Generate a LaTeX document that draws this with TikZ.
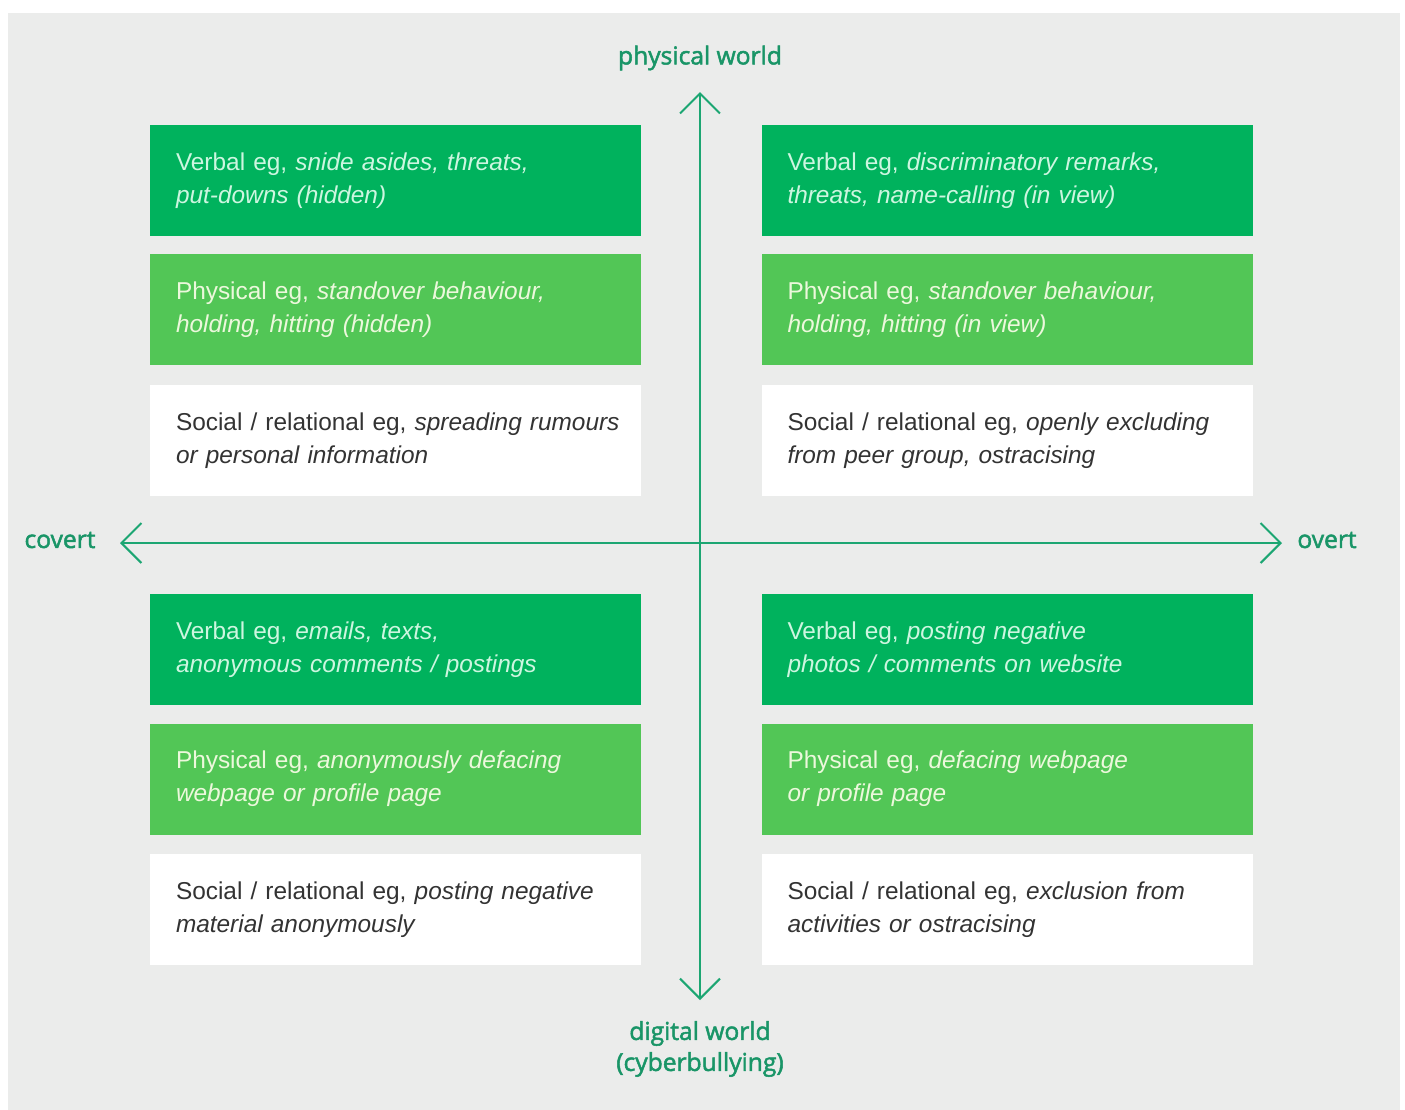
\documentclass[tikz,border=0pt]{standalone}
\usepackage{fontspec}
\setmainfont{Liberation Sans}
\newfontfamily\labelfont[FakeBold=2]{Open Sans}
\usepackage{tikz}
\usepackage{xcolor}
\usetikzlibrary{arrows.meta}
\definecolor{pagegray}{HTML}{EBECEB}
\definecolor{darkgreen}{HTML}{00B25D}
\definecolor{lightgreen}{HTML}{52C656}
\definecolor{axisgreen}{HTML}{1CA672}
\definecolor{mint}{HTML}{CDF6E0}
\definecolor{pale}{HTML}{ECF8DC}
\colorlet{bodytext}{black!80}
\newcommand{\eg}[1]{eg, \textit{#1}}
\tikzstyle{kindbox} =[
    rectangle,
    minimum width=245.5pt,
    minimum height=55.5pt,
    text width=219.5pt,
    inner xsep=13pt,
    align=left,
    font=\fontsize{12.2pt}{16.5pt}\selectfont
    ]
\tikzstyle{verbalbox} =[kindbox, fill=darkgreen, text=mint]
\tikzstyle{physbox} =[kindbox, fill=lightgreen, text=pale]
\tikzstyle{socialbox} =[kindbox, fill=white, text=bodytext]
\tikzstyle{axisline} =[
    draw=axisgreen,
    line width=1pt,
    {Straight Barb[length=10pt,width=20pt,line width=1pt]}-{Straight Barb[length=10pt,width=20pt,line width=1pt]}
    ]
\tikzstyle{axislabel} =[
    text=axisgreen!90!black,
    font=\labelfont\fontsize{12.3pt}{15.5pt}\selectfont,
    align=center,
    inner sep=0pt
    ]
\begin{document}
\begin{tikzpicture}[x=0.5pt,y=-0.5pt]
\fill[white] (0,0) rectangle (1405,1110);
\fill[pagegray] (8,13) rectangle (1400,1110);
\useasboundingbox (0,0) rectangle (1405,1110);

% physical world, covert
\node[verbalbox] (pcverbal) at (395.5,180.5) {Verbal \eg{snide asides, threats,\\ put-downs (hidden)}};
\node[physbox] (pcphys) at (395.5,309.5) {Physical \eg{standover behaviour,\\ holding, hitting (hidden)}};
\node[socialbox] (pcsocial) at (395.5,440.5) {\mbox{Social / relational \eg{spreading rumours}}\\ \textit{or personal information}};

% physical world, overt
\node[verbalbox] (poverbal) at (1007,180.5) {Verbal \eg{discriminatory remarks,\\ threats, name-calling (in view)}};
\node[physbox] (pophys) at (1007,309.5) {Physical \eg{standover behaviour,\\ holding, hitting (in view)}};
\node[socialbox] (posocial) at (1007,440.5) {Social / relational \eg{openly excluding\\ from peer group, ostracising}};

% digital world, covert
\node[verbalbox] (dcverbal) at (395.5,649.5) {Verbal \eg{emails, texts,\\ anonymous comments / postings}};
\node[physbox] (dcphys) at (395.5,779) {Physical \eg{anonymously defacing\\ webpage or profile page}};
\node[socialbox] (dcsocial) at (395.5,909.5) {Social / relational \eg{posting negative\\ material anonymously}};

% digital world, overt
\node[verbalbox] (doverbal) at (1007,649.5) {Verbal \eg{posting negative\\ photos / comments on website}};
\node[physbox] (dophys) at (1007,779) {Physical \eg{defacing webpage\\ or profile page}};
\node[socialbox] (dosocial) at (1007,909.5) {Social / relational \eg{exclusion from\\ activities or ostracising}};

% axes
\coordinate (up) at (700,92);
\coordinate (down) at (700,1000);
\coordinate (left) at (120,543);
\coordinate (right) at (1282,543);
\draw[axisline] (down) -- (up);
\draw[axisline] (left) -- (right);

\node[axislabel] (physical) at (700,58) {physical world};
\node[axislabel] (digital) at (700,1049) {digital world\\(cyberbullying)};
\node[axislabel] (covert) at (60,540) {covert};
\node[axislabel] (overt) at (1327,540) {overt};
\end{tikzpicture}
\end{document}
